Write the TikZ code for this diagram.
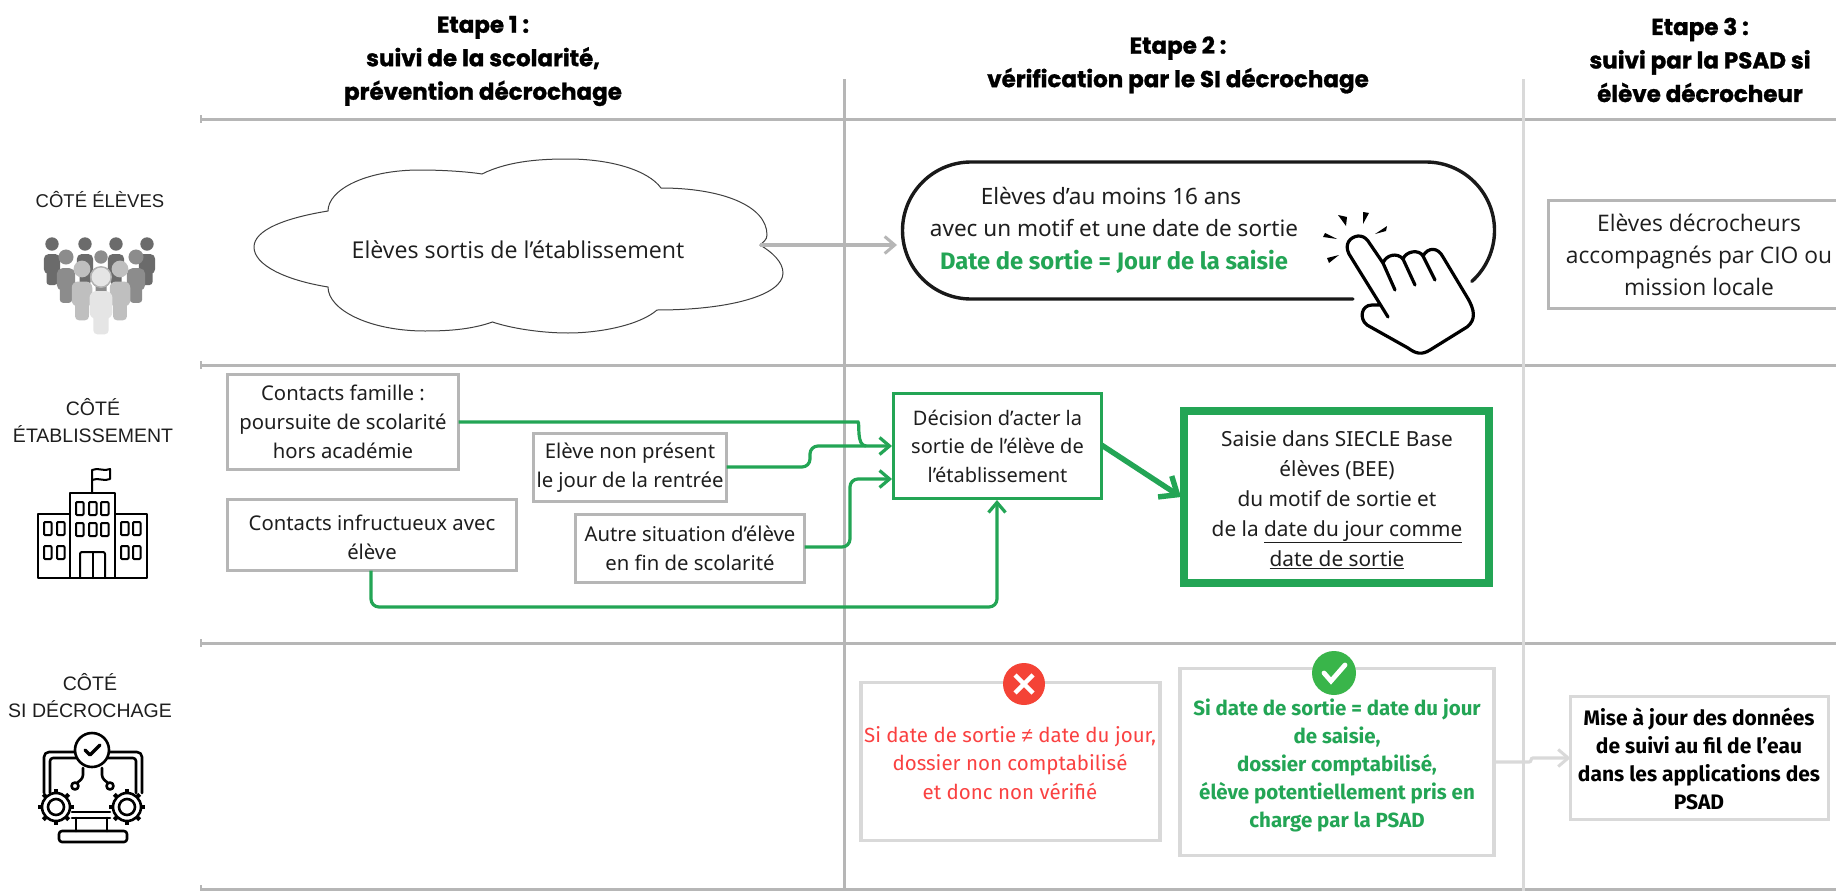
\documentclass[tikz,border=0pt]{standalone}
\usepackage{fontspec}
\setmainfont{Noto Sans}
\newfontfamily\hdfont[FakeBold=1.2]{Poppins Bold}
\newfontfamily\fira{Fira Sans}
\newfontfamily\firab{Fira Sans Bold}
\newfontfamily\ofont{Open Sans}
\newfontfamily\lib{Liberation Sans}
\usetikzlibrary{arrows.meta,calc}
\definecolor{gline}{RGB}{182,182,182}
\definecolor{lgline}{RGB}{217,217,217}
\definecolor{grn}{RGB}{35,165,85}
\definecolor{redt}{RGB}{250,65,65}
\definecolor{txt}{RGB}{30,30,30}
\definecolor{rbadge}{RGB}{244,67,54}
\definecolor{gbadge}{RGB}{57,181,74}
\tikzset{
  rule/.style={draw=gline,line width=3pt},
  head/.style={align=center,font=\hdfont\fontsize{23}{33.5}\selectfont,text=black,inner sep=0pt},
  side/.style={align=center,font=\lib\fontsize{19.5}{27}\selectfont,text=txt,inner sep=0pt},
  gbox/.style={draw=gline,line width=3.7pt,fill=white,align=center,inner sep=0pt,outer sep=0pt,text=txt,font=\fontsize{20.3}{29}\selectfont},
  lbox/.style={draw=lgline,line width=3.4pt,fill=white,inner sep=0pt,outer sep=0pt},
  flow/.style={draw=grn,line width=3.2pt,rounded corners=8pt,-{Straight Barb[length=10pt,width=17pt,line width=3.2pt]}},
  inbox/.style={align=center,inner sep=0pt},
  icon/.style={draw=black,line width=2.2pt,line join=round,line cap=round}
}
\newcommand{\person}[4]{%
  \fill[#4] (#1,#2) circle ({6.7*#3});
  \fill[#4,rounded corners={5*#3}] ($(#1,#2)+({-8.2*#3},{10*#3})$) rectangle ($(#1,#2)+({8.2*#3},{30*#3})$);
  \fill[#4,rounded corners={3*#3}] ($(#1,#2)+({-5.5*#3},{22*#3})$) rectangle ($(#1,#2)+({5.5*#3},{41*#3})$);
}
\begin{document}
\begin{tikzpicture}[x=1pt,y=-1pt]
\useasboundingbox (0,0) rectangle (1836,891);
\fill[white] (0,0) rectangle (1836,891);
% grid
\coordinate (h1a) at (201,119); \coordinate (h1b) at (1836,119);
\coordinate (h2a) at (201,365); \coordinate (h2b) at (1836,365);
\coordinate (h3a) at (201,643); \coordinate (h3b) at (1836,643);
\coordinate (h4a) at (201,889); \coordinate (h4b) at (1836,889);
\coordinate (v1a) at (844,79); \coordinate (v1b) at (844,891);
\coordinate (v2a) at (1523,79); \coordinate (v2b) at (1523,891);
\draw[rule] (h1a)--(h1b); \draw[rule] (h2a)--(h2b); \draw[rule] (h3a)--(h3b); \draw[rule] (h4a)--(h4b);
\draw[rule] (v1a)--(v1b); \draw[rule,draw=lgline] (v2a)--(v2b);
\foreach \yy in {119,365,643,889} \draw[gline,line width=1.4pt] (201,\yy-4)--(201,\yy+4);
% headers
\node[head] (e1) at (483,61) {Etape 1 :\\suivi de la scolarité,\\prévention décrochage};
\node[head] (e2) at (1178,65) {Etape 2 :\\vérification par le SI décrochage};
\node[head] (e3) at (1700,60) {Etape 3 :\\suivi par la PSAD si\\élève décrocheur};
% side labels
\node[side,font=\lib\fontsize{18.5}{27}\selectfont] (s1) at (100,200) {CÔTÉ ÉLÈVES};
\node[side] (s2) at (93,421) {CÔTÉ\\ÉTABLISSEMENT};
\node[side] (s3) at (90,696) {CÔTÉ\\SI DÉCROCHAGE};
% people icon
\person{52}{244}{1}{black!58}
\person{85}{244}{1}{black!58}
\person{116}{244}{1}{black!58}
\person{147}{244}{1}{black!58}
\person{66}{257}{1.12}{black!45}
\person{101}{257}{1}{black!45}
\person{136}{257}{1.12}{black!45}
\person{82}{269}{1.25}{black!25}
\person{120}{269}{1.25}{black!25}
\fill[black!30] (101,277) circle (11);
\person{101}{277}{1.4}{black!10}
% building icon
\begin{scope}[icon,line width=2pt]
 \draw (38,578) rectangle (147,514);
 \draw[fill=white] (70,578) rectangle (115,493);
 \draw (92,493)--(92,470) .. controls (98,467) and (104,472) .. (110,469)--(110,479) .. controls (104,482) and (98,477) .. (92,480);
 \foreach \xx in {76,89,101} \foreach \yy in {502,523} \draw[rounded corners=1pt] (\xx,\yy) rectangle +(7.5,13);
 \foreach \xx in {44,57,121,133} \foreach \yy in {522,546} \draw[rounded corners=1pt] (\xx,\yy) rectangle +(7.5,13);
 \draw[rounded corners=2pt] (80,578)--(80,552)--(105,552)--(105,578); \draw (93,552)--(93,578);
\end{scope}
% SI icon
\begin{scope}[icon,line width=2.6pt]
 \draw[rounded corners=5pt] (44,793)--(44,752)--(142,752)--(142,793);
 \draw[rounded corners=3pt] (50,793)--(50,758)--(136,758)--(136,793);
 \draw[fill=white] (92,750) circle (17);
 \draw[line width=3.2pt] (85,750)--(90,755)--(100,745);
 \draw[rounded corners=3pt] (83,768)--(83,778)--(77,783);
 \draw (75,786) circle (3.5);
 \draw[rounded corners=3pt] (102,768)--(102,778)--(108,783);
 \draw (110,786) circle (3.5);
 \foreach \cx in {56,127}{
  \draw[fill=white] (\cx,807) circle (14);
  \draw (\cx,807) circle (8);
  \foreach \a in {0,45,...,315} \draw[line width=4pt,line cap=butt] ($(\cx,807)+(\a:13.5)$)--($(\cx,807)+(\a:18)$);
 }
 \draw (72,812)--(110,812); \draw (72,818)--(110,818);
 \draw (76,818)--(76,831); \draw (107,818)--(107,831);
 \draw[rounded corners=3pt] (59,831) rectangle (127,842);
\end{scope}
% cloud
\draw[black!75,line width=1pt,fill=white] (328,287)
  .. controls (285,280) and (254,265) .. (254,247)
  .. controls (254,230) and (285,218) .. (328,211)
  .. controls (328,190) and (365,170) .. (420,170)
  .. controls (445,170) and (470,172) .. (482,174)
  .. controls (510,160) and (545,159) .. (568,159)
  .. controls (610,159) and (648,170) .. (661,188)
  .. controls (720,188) and (767,205) .. (767,235)
  .. controls (767,240) and (763,242) .. (760,245)
  .. controls (772,252) and (783,262) .. (783,273)
  .. controls (783,295) and (730,310) .. (657,310)
  .. controls (640,325) and (600,333) .. (568,333)
  .. controls (540,333) and (510,328) .. (492.5,322)
  .. controls (470,330) and (445,331) .. (425,331)
  .. controls (370,331) and (328,310) .. (328,287) -- cycle;
\node[inbox,font=\ofont\fontsize{23.2}{26}\selectfont,text=txt] (cloud) at (518,249.5) {Elèves sortis de l’établissement};
\coordinate (cloudE) at (760,245);
\coordinate (pillW) at (897,245);
\draw[gline,line width=3.4pt,-{Straight Barb[length=10pt,width=17pt,line width=3pt]}] (cloudE)--(pillW);
% pill
\coordinate (pb) at (1353,299);
\coordinate (pc) at (971,299);
\draw[black!90,line width=3.4pt,line cap=round] (pb)--(pc) arc[start angle=270,end angle=90,radius=68.5pt] -- (1426,162) arc[start angle=90,end angle=-48,radius=68.5pt];
\node[inbox,font=\fontsize{22.5}{32.5}\selectfont,text=txt] (pill) at (1114,230) {\hspace*{-6pt}Elèves d’au moins 16 ans\\avec un motif et une date de sortie\\{\color{grn}\firab\fontsize{23.8}{32.5}\selectfont Date de sortie = Jour de la saisie}};
% hand
\begin{scope}[black,line width=3.2pt,line join=round,line cap=round]
 \draw (1388,317) -- (1349,254) .. controls (1344,244) and (1350,237) .. (1358,236)
   .. controls (1362,236) and (1365,237) .. (1368,241) -- (1383,263)
   .. controls (1386,255) and (1397,252) .. (1403,259)
   .. controls (1406,251) and (1419,249) .. (1423,256)
   .. controls (1428,247) and (1438,247) .. (1443,257)
   -- (1467,297) .. controls (1475,310) and (1476,320) .. (1467,327)
   -- (1430,350) .. controls (1422,355) and (1416,354) .. (1408,348)
   -- (1367,325) .. controls (1359,319) and (1361,305) .. (1372,305)
   -- (1380,305);
 \draw (1383,263)--(1395,290); \draw (1403,259)--(1415,285); \draw (1423,256)--(1435,280);
\end{scope}
\fill[black] (1338,215)--(1347,217)--(1346,226)--cycle;
\fill[black] (1363,212)--(1369,213)--(1363,224)--cycle;
\fill[black] (1387,226)--(1386,231)--(1375,234)--cycle;
\fill[black] (1323,237)--(1325,233)--(1337,239)--cycle;
\fill[black] (1327,258)--(1329,263)--(1339,255)--cycle;
% right top box
\node[lbox,draw=gline,line width=3pt,minimum width=300pt,minimum height=108pt] (rt) at (1698.5,254.5) {};
\node[inbox,font=\ofont\fontsize{22.8}{32}\selectfont,text=txt] (rtt) at (1699,254.5) {Elèves décrocheurs\\accompagnés par CIO ou\\mission locale};
% etablissement boxes
\node[gbox,minimum width=231pt,minimum height=95pt] (a) at (343,422) {Contacts famille :\\poursuite de scolarité\\hors académie};
\node[gbox,minimum width=193pt,minimum height=68pt] (b) at (630,467.5) {Elève non présent\\le jour de la rentrée};
\node[gbox,minimum width=289pt,minimum height=71pt] (c) at (372,535) {};
\node[inbox,text=txt,font=\fontsize{20.3}{29}\selectfont] (ct) at (372,537) {Contacts infructueux avec\\élève};
\node[gbox,minimum width=229pt,minimum height=68pt] (d) at (690,548.5) {Autre situation d’élève\\en fin de scolarité};
\node[gbox,draw=grn,minimum width=208pt,minimum height=105pt,font=\fontsize{20}{28.5}\selectfont] (dec) at (997.5,446) {Décision d’acter la\\sortie de l’élève de\\l’établissement};
\node[gbox,draw=grn,line width=8pt,minimum width=305pt,minimum height=172pt] (sai) at (1336.5,497) {};
\node[inbox,text=txt,font=\fontsize{20.8}{30}\selectfont] (sait) at (1337,499.5) {Saisie dans SIECLE Base\\élèves (BEE)\\du motif de sortie et\\de la \underline{date du jour comme}\\\underline{date de sortie}};
% flows
\coordinate (dw1) at (892,446);
\coordinate (dw2) at (892,479);
\coordinate (ds) at (997,500);
\coordinate (aj) at (860,422);
\coordinate (bj) at (810,467);
\coordinate (dj) at (850,547);
\coordinate (cj) at (371,607);
\draw[flow,arrows=-] (a.east|-aj)--(850,422) .. controls (860,422) and (856,446) .. (866,446);
\draw[flow] (b.east|-bj)--(bj)--(810,446)--(dw1);
\draw[flow] (d.east|-dj)--(dj)--(850,479)--(dw2);
\draw[flow] (c.south-|cj)--(cj)--(ds|-cj)--(ds);
\draw[grn,line width=5.4pt,-{Straight Barb[length=15pt,width=25pt,line width=5.4pt]}] (dec.east|-0,445)--(1181,497);
% SI boxes
\node[lbox,minimum width=299pt,minimum height=158pt] (no) at (1010.5,761.5) {};
\node[inbox,font=\fira\fontsize{20.5}{28.5}\selectfont,text=redt] (not) at (1010,763) {Si date de sortie {\lib ≠} date du jour,\\dossier non comptabilisé\\et donc non vérifié};
\node[lbox,minimum width=314pt,minimum height=187pt] (ok) at (1337,762) {};
\node[inbox,font=\firab\fontsize{20.5}{28}\selectfont,text=grn] (okt) at (1337,765) {Si date de sortie = date du jour\\de saisie,\\dossier comptabilisé,\\élève potentiellement pris en\\charge par la PSAD};
\node[lbox,minimum width=258pt,minimum height=123pt] (mj) at (1699.5,758) {};
\node[inbox,font=\firab\fontsize{21}{28}\selectfont,text=black] (mjt) at (1699,759) {Mise à jour des données\\de suivi au fil de l’eau\\dans les applications des\\PSAD};
\coordinate (oa) at (1531,762);
\coordinate (ob) at (1531,758);
\draw[lgline,line width=3.2pt,rounded corners=2pt,-{Straight Barb[length=10pt,width=17pt,line width=3pt]}] (ok.east|-oa)--(oa)--(ob)--(mj.west|-ob);
% badges
\fill[rbadge] (1024,684) circle (21) coordinate (xc);
\draw[white,line width=4.5pt] (1015,675)--(1033,693) (1015,693)--(1033,675);
\fill[gbadge] (1334,673) circle (22) coordinate (cc);
\draw[white,line width=4.8pt,line cap=round] (1324,673)--(1331,681)--(1345,665);
\end{tikzpicture}
\end{document}
